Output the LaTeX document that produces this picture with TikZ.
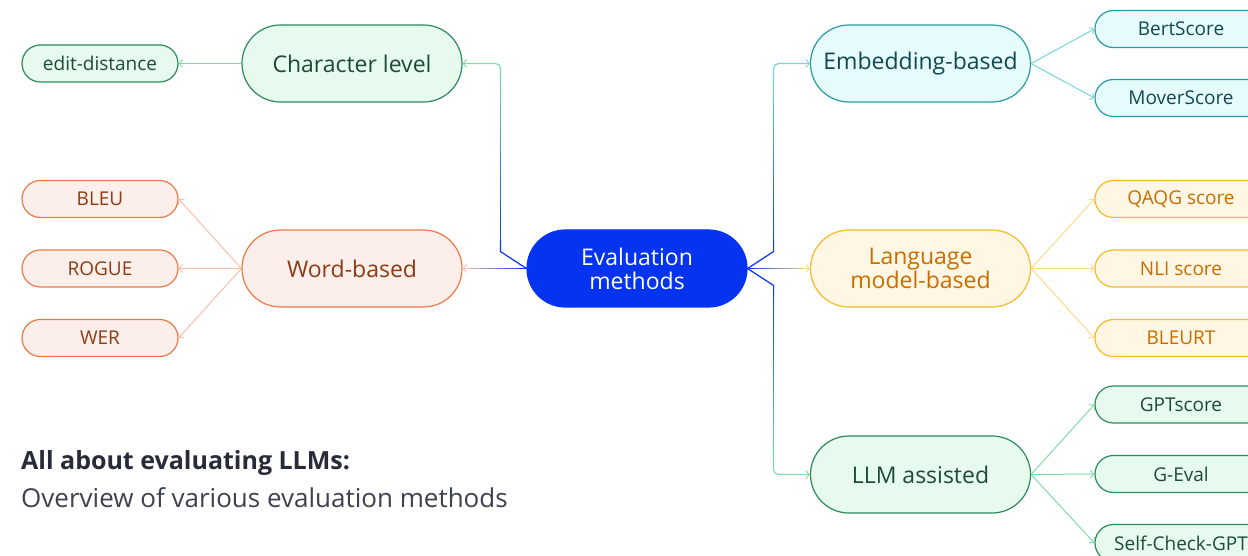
\documentclass[tikz,border=0pt]{standalone}
\usepackage{fontspec}
\setmainfont{Open Sans}
\usetikzlibrary{arrows.meta,calc}

\definecolor{evalblue}{RGB}{4,52,240}
\definecolor{grnline}{RGB}{44,138,92}
\definecolor{grnfill}{RGB}{230,250,238}
\definecolor{grntext}{RGB}{30,74,54}
\definecolor{grnlite}{RGB}{130,220,170}
\definecolor{orgline}{RGB}{236,122,70}
\definecolor{orgfill}{RGB}{252,238,234}
\definecolor{orgtext}{RGB}{140,60,20}
\definecolor{orglite}{RGB}{250,190,172}
\definecolor{cynline}{RGB}{40,156,160}
\definecolor{cynfill}{RGB}{230,251,252}
\definecolor{cyntext}{RGB}{16,72,80}
\definecolor{cynlite}{RGB}{120,214,218}
\definecolor{ylwline}{RGB}{247,186,40}
\definecolor{ylwfill}{RGB}{255,246,228}
\definecolor{ylwtext}{RGB}{200,110,0}
\definecolor{ylwlite}{RGB}{255,218,140}
\definecolor{titlecol}{RGB}{40,44,56}
\definecolor{subcol}{RGB}{62,66,78}

% straight line from #1 to #2 whose colour runs from #3 to #4
\newcommand\gradline[4]{%
  \foreach \i in {1,...,16}{%
    \pgfmathsetmacro\pa{(\i-1)/16}%
    \pgfmathsetmacro\pb{\i/16}%
    \pgfmathtruncatemacro\mix{100-(\i-0.5)*100/16}%
    \draw[trunk, color=#3!\mix!#4] ($(#1)!\pa!(#2)$) -- ($(#1)!\pb!(#2)$);
  }}

\tikzset{
  big/.style={rounded corners=38.4pt, minimum width=220pt, minimum height=77pt,
    line width=1.2pt, align=center, inner sep=1pt, font=\fontsize{23}{24}\selectfont},
  leaf/.style={rounded corners=18.4pt, minimum height=37pt, line width=1.2pt,
    inner sep=1pt, font=\fontsize{19}{20}\selectfont},
  leafL/.style={leaf, minimum width=156pt},
  leafR/.style={leaf, minimum width=172pt},
  grn/.style={draw=grnline, fill=grnfill, text=grntext},
  org/.style={draw=orgline, fill=orgfill, text=orgtext},
  cyn/.style={draw=cynline, fill=cynfill, text=cyntext},
  ylw/.style={draw=ylwline, fill=ylwfill, text=ylwtext},
  tip/.style={-{Straight Barb[length=3.5pt,width=8pt,line width=0.9pt]}},
  trunk/.style={line width=1.2pt, line cap=round},
  twig/.style={line width=1pt, tip},
}

\begin{document}
\begin{tikzpicture}[x=1pt,y=1pt]
\useasboundingbox (0,0) rectangle (1248,555);
\fill[white] (0,0) rectangle (1248,555);

% centre
\node[big, fill=evalblue, draw=evalblue, text=white] (eval) at (637,286.5) {Evaluation\\methods};

% categories
\node[big, grn] (chr)  at (352,491.5)   {Character level};
\node[big, org] (word) at (352,286.5)   {Word-based};
\node[big, cyn] (emb)  at (920.5,491.5) {Embedding-based};
\node[big, ylw] (lang) at (920.5,286.5) {Language\\model-based};
\node[big, grn] (llm)  at (920.5,80.5)  {LLM assisted};

% left leaves
\node[leafL, grn] (edit)  at (100,491.5) {edit-distance};
\node[leafL, org] (bleu)  at (100,356)   {BLEU};
\node[leafL, org] (rogue) at (100,286.5) {ROGUE};
\node[leafL, org] (wer)   at (100,217)   {WER};

% right leaves
\node[leafR, cyn] (bert)   at (1181,526)   {BertScore};
\node[leafR, cyn] (mover)  at (1181,457)   {MoverScore};
\node[leafR, ylw] (qaqg)   at (1181,356)   {QAQG score};
\node[leafR, ylw] (nli)    at (1181,286.5) {NLI score};
\node[leafR, ylw] (bleurt) at (1181,217)   {BLEURT};
\node[leafR, grn] (gpt)    at (1181,150.5) {GPTscore};
\node[leafR, grn] (geval)  at (1181,81)    {G-Eval};
\node[leafR, grn] (self)   at (1181,12)    {Self-Check-GPT};

% trunk bends
\coordinate (kUL) at ($(eval.west)+(-26,17)$);
\coordinate (kUR) at ($(eval.east)+(26,17)$);
\coordinate (kDR) at ($(eval.east)+(26,-17)$);
\coordinate (cUL) at (kUL |- chr.east);
\coordinate (cUR) at (kUR |- emb.west);
\coordinate (cDR) at (kDR |- llm.west);
\coordinate (sUL) at ($(cUL)+(0,-5)$);
\coordinate (sUR) at ($(cUR)+(0,-5)$);
\coordinate (sDR) at ($(cDR)+(0,5)$);

% trunks from the centre
\draw[trunk, evalblue] (eval.west) -- (kUL);
\gradline{kUL}{sUL}{evalblue}{grnlite}
\draw[trunk, grnlite, rounded corners=5pt, tip] (sUL) -- (cUL) -- (chr.east);

\draw[trunk, evalblue] (eval.east) -- (kUR);
\gradline{kUR}{sUR}{evalblue}{cynlite}
\draw[trunk, cynlite, rounded corners=5pt, tip] (sUR) -- (cUR) -- (emb.west);

\draw[trunk, evalblue] (eval.east) -- (kDR);
\gradline{kDR}{sDR}{evalblue}{grnlite}
\draw[trunk, grnlite, rounded corners=5pt, tip] (sDR) -- (cDR) -- (llm.west);

\gradline{eval.west}{word.east}{evalblue}{orglite}
\draw[trunk, orglite, tip] ($(eval.west)!0.9!(word.east)$) -- (word.east);
\gradline{eval.east}{lang.west}{evalblue}{ylwlite}
\draw[trunk, ylwlite, tip] ($(eval.east)!0.9!(lang.west)$) -- (lang.west);

% branches to the leaves
\draw[twig, grnlite] (chr.west) -- (edit.east);
\foreach \n in {bleu,rogue,wer} \draw[twig, orglite] (word.west) -- (\n.east);
\foreach \n in {bert,mover} \draw[twig, cynlite] (emb.east) -- (\n.west);
\foreach \n in {qaqg,nli,bleurt} \draw[twig, ylwlite] (lang.east) -- (\n.west);
\foreach \n in {gpt,geval,self} \draw[twig, grnlite] (llm.east) -- (\n.west);

% caption
\node[anchor=west, inner sep=0pt, text=titlecol, font=\fontsize{25}{28}\selectfont\bfseries] (cap1) at (21,92) {All about evaluating LLMs:};
\node[anchor=west, inner sep=0pt, text=subcol, font=\fontsize{26}{28}\selectfont] (cap2) at (21,57) {Overview of various evaluation methods};
\end{tikzpicture}
\end{document}
